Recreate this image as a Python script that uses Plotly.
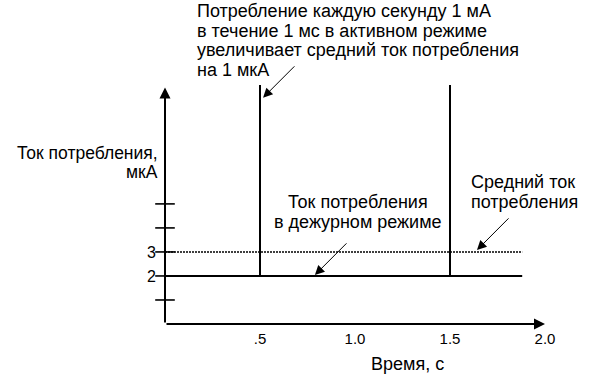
import plotly.graph_objects as go

# ---- data ----
time_s = [0.0, 0.5, 0.5, 0.5, 1.5, 1.5, 1.5, 1.88]          # time, s
current_uA = [2, 2, 1000, 2, 2, 1000, 2, 2]                 # consumption current, uA (1 mA spikes)
avg_time_s = [0.0, 1.88]
avg_current_uA = [3, 3]                                     # average current, uA
y_tick_vals = [1, 2, 3, 4, 5]
y_tick_labels = ["", "2", "3", "", ""]
x_tick_vals = [0.5, 1.0, 1.5, 2.0]
x_tick_labels = [".5", "1.0", "1.5", "2.0"]

FONT = "Liberation Sans, Arial, sans-serif"
W, H = 600, 375
L, T = 165, 85
PR, PB = 564, 324   # plot right / bottom in pixels
R, B = W - PR, H - PB
PW, PH = PR - L, PB - T


def px(xp):
    return (xp - L) / PW


def py(yp):
    return (PB - yp) / PH


fig = go.Figure()
fig.add_trace(go.Scatter(x=avg_time_s, y=avg_current_uA, mode="lines",
                         line=dict(color="black", width=1.6, dash="2px,1px"),
                         hoverinfo="skip"))
fig.add_trace(go.Scatter(x=time_s, y=current_uA, mode="lines",
                         line=dict(color="black", width=2), hoverinfo="skip"))
fig.add_trace(go.Scatter(x=[0] * len(y_tick_vals), y=y_tick_vals, mode="markers",
                         marker=dict(symbol="line-ew", size=14,
                                     line=dict(color="black", width=1.6)),
                         cliponaxis=False, hoverinfo="skip"))

ann = []
# axes with arrows
ann.append(dict(x=2.0, y=0, ax=0, ay=0, xref="x", yref="y", axref="x", ayref="y",
                text="", showarrow=True, arrowhead=2, arrowsize=1.1, arrowwidth=2,
                arrowcolor="black"))
ann.append(dict(x=0, y=9.85, ax=0, ay=0, xref="x", yref="y", axref="x", ayref="y",
                text="", showarrow=True, arrowhead=2, arrowsize=1.1, arrowwidth=2,
                arrowcolor="black"))
# callout arrows
for hx, hy, tx, ty in [(0.516, 9.42, 0.689, 10.79),
                       (0.789, 2.04, 0.963, 3.42),
                       (1.642, 3.08, 1.816, 4.46)]:
    ann.append(dict(x=hx, y=hy, ax=tx, ay=ty, xref="x", yref="y", axref="x", ayref="y",
                    text="", showarrow=True, arrowhead=2, arrowsize=1.9, arrowwidth=1,
                    arrowcolor="black"))


def label(text, xp, yp, anchor="left", size=18):
    ann.append(dict(x=px(xp), y=py(yp), xref="paper", yref="paper", text=text,
                    showarrow=False, xanchor=anchor, yanchor="middle",
                    font=dict(family=FONT, size=size, color="black")))


for i, t in enumerate(["Потребление каждую секунду 1 мА",
                       "в течение 1 мс в активном режиме",
                       "увеличивает средний ток потребления",
                       "на 1 мкА"]):
    label(t, 195, 11 + i * 19.5)
label("Ток потребления,", 160, 153, "right", 17.5)
label("мкА", 160, 172, "right", 17.5)
label("Ток потребления", 358, 202, "center")
label("в дежурном режиме", 358, 222, "center")
label("Средний ток", 523, 182, "center")
label("потребления", 524, 202, "center")
label("Время, с", 407, 364, "center")

fig.update_layout(
    width=W, height=H, margin=dict(l=L, r=R, t=T, b=B),
    paper_bgcolor="white", plot_bgcolor="white", showlegend=False,
    annotations=ann,
    xaxis=dict(range=[0, 2.1], showgrid=False, zeroline=False, showline=False,
               tickvals=x_tick_vals, ticktext=x_tick_labels, ticks="",
               ticklabelstandoff=4,
               tickfont=dict(family=FONT, size=15, color="black")),
    yaxis=dict(range=[0, 9.95], showgrid=False, zeroline=False, showline=False,
               tickvals=y_tick_vals, ticktext=y_tick_labels, ticks="",
               ticklabelstandoff=8,
               tickfont=dict(family=FONT, size=16, color="black")),
)
fig.write_html("out.html", config={"displayModeBar": False},
               post_script="document.body.style.margin='0';")
